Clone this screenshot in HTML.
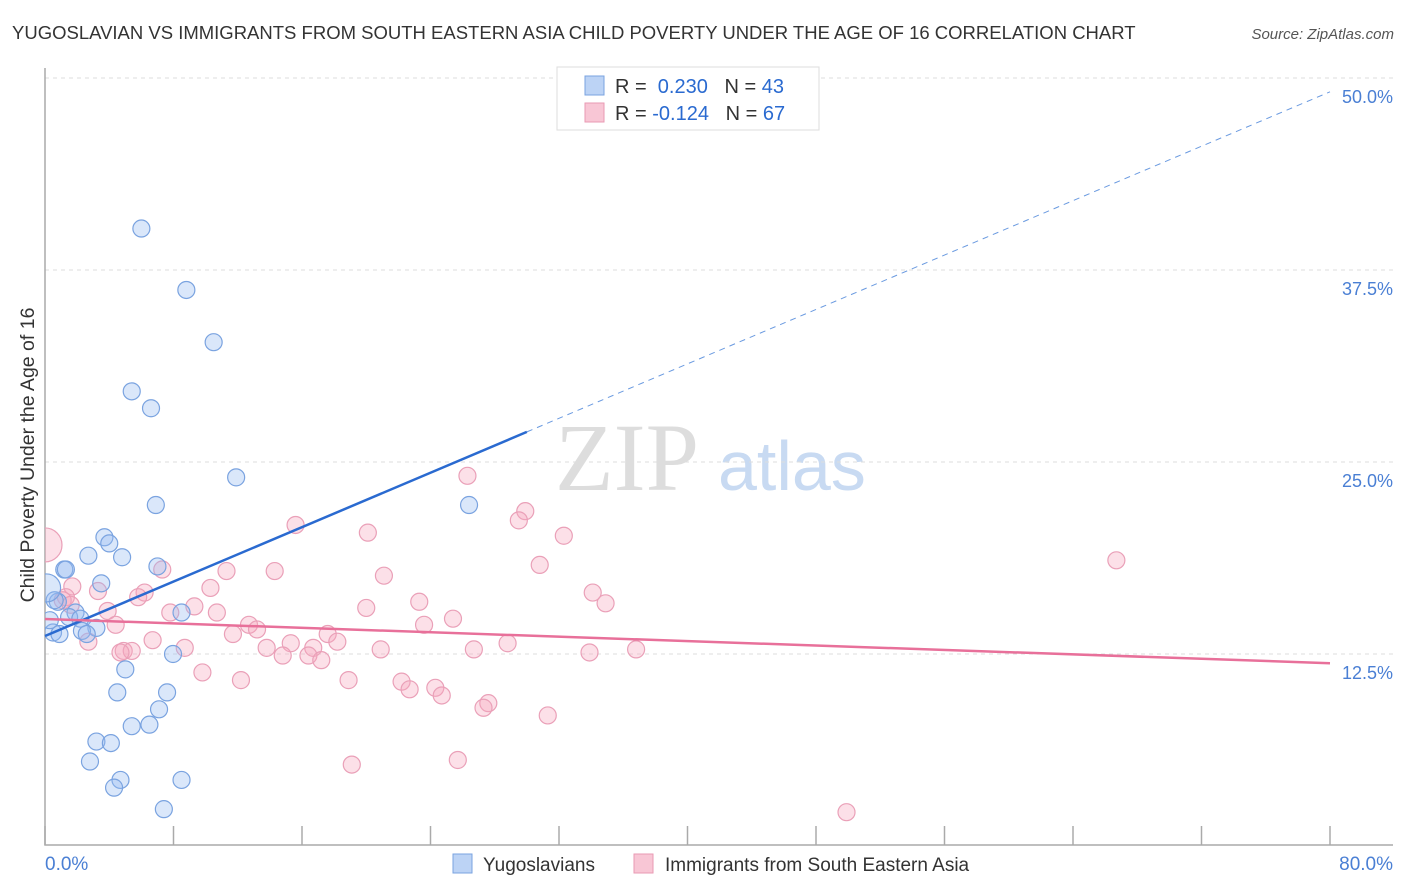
<!DOCTYPE html>
<html><head><meta charset="utf-8"><style>
body{margin:0;background:#fff;font-family:"Liberation Sans",sans-serif;}
svg{display:block}
</style></head><body>
<svg id="chart" width="1406" height="892">
<defs><clipPath id="plotclip"><rect x="45" y="60" width="1360" height="786"/></clipPath></defs>
<text x="12" y="39" font-size="18.5" fill="#333">YUGOSLAVIAN VS IMMIGRANTS FROM SOUTH EASTERN ASIA CHILD POVERTY UNDER THE AGE OF 16 CORRELATION CHART</text>
<text x="1394" y="39" font-size="15" fill="#555" font-style="italic" text-anchor="end">Source: ZipAtlas.com</text>
<text x="555" y="490" font-size="96" fill="#ddd" font-family="Liberation Serif,serif">ZIP</text>
<text x="718" y="490" font-size="70" fill="#c8daf2">atlas</text>
<text transform="translate(34,455) rotate(-90)" font-size="19.5" fill="#333" text-anchor="middle">Child Poverty Under the Age of 16</text>
<g id="grid"></g><g id="pts" clip-path="url(#plotclip)"></g><g id="lines"></g>
<g>
<rect x="557" y="67" width="262" height="63" fill="#fff" stroke="#ddd"/>
<rect x="585" y="76" width="19" height="19" fill="#bcd3f5" stroke="#7aa3e0"/>
<rect x="585" y="103" width="19" height="19" fill="#f8c6d5" stroke="#e99ab3"/>
<text x="615" y="93" font-size="20" fill="#333">R = <tspan fill="#2a6ad0">&#160;0.230</tspan>&#160;&#160;&#160;N = <tspan fill="#2a6ad0">43</tspan></text>
<text x="615" y="120" font-size="20" fill="#333">R = <tspan fill="#2a6ad0">-0.124</tspan>&#160;&#160;&#160;N = <tspan fill="#2a6ad0">67</tspan></text>
</g>
<g>
<rect x="453" y="854" width="19" height="19" fill="#bcd3f5" stroke="#7aa3e0"/>
<text x="483" y="871" font-size="19" fill="#333">Yugoslavians</text>
<rect x="634" y="854" width="19" height="19" fill="#f8c6d5" stroke="#e99ab3"/>
<text x="665" y="871" font-size="19" fill="#333">Immigrants from South Eastern Asia</text>
</g>
<text x="45" y="870" font-size="19" fill="#4a7fd4">0.0%</text>
<text x="1393" y="870" font-size="19" fill="#4a7fd4" text-anchor="end">80.0%</text>
</svg>
<script>
const yTicks=[50,37.5,25,12.5];
const yTickLabels=["50.0%","37.5%","25.0%","12.5%"];
const blueX=[6.0,8.8,10.5,5.4,6.6,11.9,6.9,26.4,3.7,4.0,2.7,4.8,7.0,1.2,1.3,3.5,0.8,0.6,1.9,8.5,1.5,2.2,3.2,2.3,0.5,0.9,2.6,7.97,5.0,4.5,7.6,7.1,5.4,6.5,3.2,4.1,2.8,4.7,8.5,4.3,7.4,0.1,0.3];
const blueY=[40.2,36.2,32.8,29.6,28.5,24.0,22.2,22.2,20.1,19.7,18.9,18.8,18.2,18.0,18.0,17.1,15.9,16.0,15.2,15.2,14.9,14.8,14.2,14.0,13.9,13.8,13.8,12.5,11.5,10.0,10.0,8.9,7.8,7.9,6.8,6.7,5.5,4.3,4.3,3.8,2.4,16.8,14.7];
const pinkX=[0.0,15.6,20.1,26.3,29.9,29.5,32.3,66.7,30.8,11.3,14.3,21.1,7.3,1.7,10.3,6.2,3.3,5.8,34.1,34.9,23.3,1.3,9.3,10.7,20.0,7.8,3.9,25.4,23.6,4.4,12.7,13.2,11.7,17.6,18.2,15.3,6.7,2.7,8.7,13.8,16.7,20.9,26.7,28.8,36.8,33.9,4.9,5.4,14.8,16.4,17.2,9.8,18.9,12.2,22.2,22.7,24.3,24.7,27.6,27.3,31.3,19.1,25.7,49.9,1.1,4.7,1.6];
const pinkY=[19.6,20.9,20.4,24.1,21.8,21.2,20.2,18.6,18.3,17.9,17.9,17.6,18.0,16.9,16.8,16.5,16.6,16.2,16.5,15.8,15.9,16.2,15.6,15.2,15.5,15.2,15.3,14.8,14.4,14.4,14.4,14.1,13.8,13.8,13.3,13.2,13.4,13.3,12.9,12.9,12.9,12.8,12.8,13.2,12.8,12.6,12.7,12.7,12.4,12.4,12.1,11.3,10.8,10.8,10.7,10.2,10.3,9.8,9.3,9.0,8.5,5.3,5.6,2.2,16.0,12.6,15.7];
const blueLine=[[0,13.67],[30.0,26.96],[80,49.1]];
const pinkLine=[[0,14.78],[80,11.9]];
const NS="http://www.w3.org/2000/svg";
const X=v=>45+v*16.0625, Y=v=>846-v*15.36;
function mk(t,a,p){const e=document.createElementNS(NS,t);for(const k in a)e.setAttribute(k,a[k]);p.appendChild(e);return e;}
const grid=document.getElementById('grid');
yTicks.forEach((t,i)=>{
 const l=mk('line',{x1:45,x2:1393,y1:Y(t),y2:Y(t),stroke:'#ddd','stroke-dasharray':'4,4'},grid);
 
 
 const tx=mk('text',{x:1393,y:Y(t)+25,'font-size':18,fill:'#4a7fd4','text-anchor':'end'},grid);
 tx.textContent=yTickLabels[i];
 
 
});
const ax=mk('path',{d:'M45 68V845H1393',fill:'none',stroke:'#aaa','stroke-width':1.5},grid);


for(let i=0;i<=10;i++){const t=mk('line',{x1:X(i*8),x2:X(i*8),y1:826,y2:845,stroke:'#aaa','stroke-width':1.5},grid);
 
 }
const pts=document.getElementById('pts');
pinkX.forEach((x,i)=>{const r=i==0?17:8.5;
 const c=mk('circle',{cx:X(x),cy:Y(pinkY[i]),r:r,fill:'rgba(245,165,190,0.35)',stroke:'#eaa0b8','stroke-width':1.2},pts);
 
 });
blueX.forEach((x,i)=>{const r=i==41?14:8.5;
 const c=mk('circle',{cx:X(x),cy:Y(blueY[i]),r:r,fill:'rgba(150,185,240,0.35)',stroke:'#7aa3e0','stroke-width':1.2},pts);
 
 });
const ln=document.getElementById('lines');
let a=mk('line',{x1:X(blueLine[0][0]),y1:Y(blueLine[0][1]),x2:X(blueLine[1][0]),y2:Y(blueLine[1][1]),stroke:'#2a6ad0','stroke-width':2.5},ln);


a=mk('line',{x1:X(blueLine[1][0]),y1:Y(blueLine[1][1]),x2:X(blueLine[2][0]),y2:Y(blueLine[2][1]),stroke:'#6a9ae0','stroke-width':1,'stroke-dasharray':'6,5'},ln);


a=mk('line',{x1:X(pinkLine[0][0]),y1:Y(pinkLine[0][1]),x2:X(pinkLine[1][0]),y2:Y(pinkLine[1][1]),stroke:'#e8709a','stroke-width':2.5},ln);


</script>
</body></html>
